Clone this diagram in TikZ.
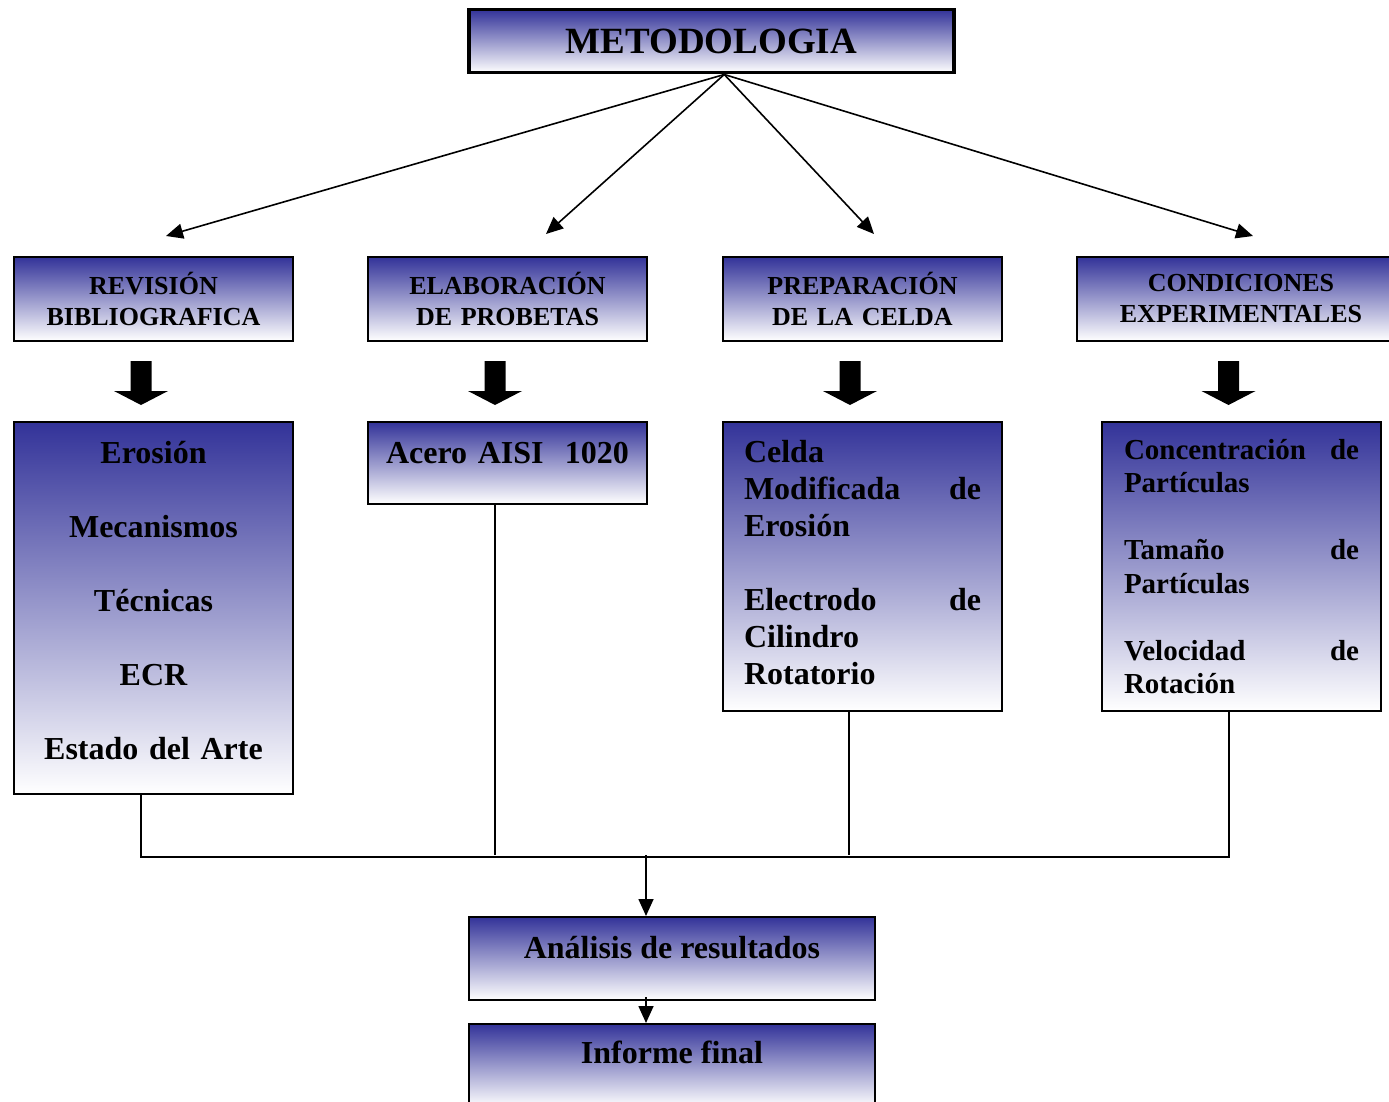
\documentclass[tikz,border=0pt]{standalone}
\usepackage{fontspec}
\setmainfont{Liberation Serif}
\usetikzlibrary{arrows.meta,calc}

\definecolor{metblue}{RGB}{51,51,153}
\newcommand{\spread}{\hskip 0pt plus 1filll\relax}

\tikzset{
  caja/.style={draw, line width=2pt, top color=metblue, bottom color=white,
    inner sep=0pt, anchor=north west, font=\bfseries},
  titulo/.style={caja, minimum width=279pt, minimum height=84pt, text width=279pt,
    align=center, font=\bfseries\fontsize{26}{31}\selectfont},
  cuerpo/.style={caja, minimum width=279pt, text width=279pt, align=center,
    font=\bfseries\fontsize{32}{37}\selectfont},
  flecha/.style={line width=1.6pt, -{Triangle[length=17pt,width=15pt]}},
  linea/.style={line width=1.6pt},
}

\begin{document}
\begin{tikzpicture}[x=1pt,y=-1pt]
    \useasboundingbox (0,0) rectangle (1389,1102);
    \clip (0,0) rectangle (1389,1102);

    \node[caja, minimum width=485pt, minimum height=63pt, line width=3.5pt,
      font=\bfseries\fontsize{37}{44}\selectfont] (met) at (467,8) {METODOLOGIA};

    \node[titulo] (rev) at (13,256) {REVISIÓN\\BIBLIOGRAFICA};
    \node[titulo] (ela) at (367,256) {ELABORACIÓN\\DE PROBETAS};
    \node[titulo] (pre) at (722,256) {PREPARACIÓN\\DE LA CELDA};
    \node[titulo, minimum width=328pt, text width=328pt] (con) at (1076,256) {CONDICIONES\\EXPERIMENTALES};

    \node[cuerpo, minimum height=372pt] (ero) at (13,421)
      {Erosión\\[37pt] Mecanismos\\[37pt] Técnicas\\[37pt] ECR\\[37pt] Estado del Arte\\[-21pt]\mbox{}};
    \node[cuerpo, minimum height=82pt, text height=22pt, text depth=21pt] (ace) at (367,421) {Acero AISI\ \ 1020};
    \node[cuerpo, minimum height=289pt, text width=237pt, inner xsep=21pt, align=left] (cel) at (722,421)
      {Celda\\ Modificada\spread de\\ Erosión\\[37pt] Electrodo\spread de\\ Cilindro\\ Rotatorio\\[-29pt]\mbox{}};
    \node[cuerpo, minimum height=289pt, text width=235pt, inner xsep=22pt, align=left,
      font=\bfseries\fontsize{29}{33.5}\selectfont] (vel) at (1101,421)
      {Concentración\spread de\\ Partículas\\[33.5pt] Tamaño\spread de\\ Partículas\\[33.5pt] Velocidad\spread de\\ Rotación};

    \node[caja, minimum width=406pt, minimum height=83pt, text height=22pt, text depth=23pt,
      font=\bfseries\fontsize{32}{37}\selectfont] (ana) at (468,916) {Análisis de resultados};
    \node[caja, minimum width=406pt, minimum height=83pt, text height=22pt, text depth=27pt,
      font=\bfseries\fontsize{32}{37}\selectfont] (inf) at (468,1023) {Informe final};

    \coordinate (m0) at ([xshift=13pt]met.south);
    \draw[flecha] (m0) -- ([shift={(12.5pt,20pt)}]rev.north);
    \draw[flecha] (m0) -- ([shift={(38.5pt,22pt)}]ela.north);
    \draw[flecha] (m0) -- ([shift={(11.5pt,22pt)}]pre.north);
    \draw[flecha] (m0) -- ([shift={(12pt,20pt)}]con.north);

    \foreach \n in {rev,ela,pre,con}
      \fill ([shift={(-23pt,-19pt)}]\n.south) -- ++(21,0) -- ++(0,30) -- ++(16.5,0)
        -- ++(-27,14) -- ++(-27,-14) -- ++(16.5,0) -- cycle;

    \coordinate (bus) at (646,855);
    \draw[linea] ([xshift=-12.5pt]ero.south) -- ++(0,62) -| ([xshift=-12.5pt]vel.south);
    \draw[linea] ([xshift=-12.5pt]ace.south) -- ([xshift=-12.5pt]ace.south |- bus);
    \draw[linea] ([xshift=-13.5pt]cel.south) -- ([xshift=-13.5pt]cel.south |- bus);
    \draw[flecha] (bus) -- (bus |- ana.north);
    \draw[flecha] ([xshift=-26pt,yshift=4pt]ana.south) -- ([xshift=-26pt]inf.north);
\end{tikzpicture}
\end{document}
